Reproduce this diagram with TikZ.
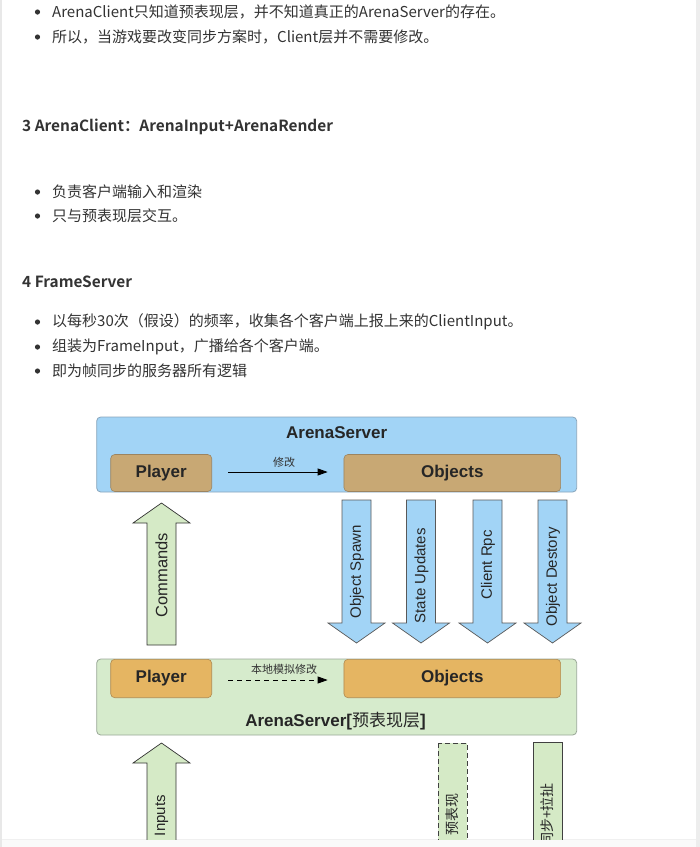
\documentclass[tikz,border=0pt]{standalone}
\usepackage{fontspec}
\setmainfont{Liberation Sans}
\newfontfamily\cjk{Noto Sans CJK SC}[BoldFont={Noto Sans CJK SC Bold}]
\usetikzlibrary{arrows.meta}
\definecolor{txt}{HTML}{333333}
\definecolor{srvblue}{HTML}{A2D4F6}
\definecolor{srvblueline}{HTML}{8AA6BC}
\definecolor{tan}{HTML}{C8A874}
\definecolor{tanline}{HTML}{9C8460}
\definecolor{lgreen}{HTML}{D6EBCC}
\definecolor{lgreenline}{HTML}{9AA898}
\definecolor{orng}{HTML}{E5B562}
\definecolor{orngline}{HTML}{B08A50}
\definecolor{arrgreen}{HTML}{D5EAC6}
\definecolor{edgegray}{HTML}{E8E8E8}
\tikzset{
  para/.style={anchor=west, inner sep=0pt, text=txt, font=\cjk\fontsize{15}{18}\selectfont},
  head/.style={anchor=west, inner sep=0pt, text=txt, font=\cjk\bfseries\fontsize{15.4}{18}\selectfont},
  bul/.style={fill=txt},
  layerbox/.style={draw, rounded corners=4pt, minimum width=480pt, line width=0.8pt},
  innerbox/.style={draw, rounded corners=4pt, line width=0.6pt, font=\bfseries\fontsize{17}{20}\selectfont, text=black!85},
  boxtitle/.style={font=\bfseries\fontsize{17}{20}\selectfont, text=black!85, inner sep=0pt},
  smalllbl/.style={font=\cjk\fontsize{11}{13}\selectfont, text=black!80, inner sep=0pt},
  vlbl/.style={rotate=90, anchor=east, inner sep=0pt, font=\fontsize{15}{17}\selectfont, text=black!85},
  vcjk/.style={rotate=90, anchor=east, inner sep=0pt, font=\cjk\fontsize{14}{17}\selectfont, text=black!85},
  blockblue/.style={fill=srvblue, draw=black!65, line width=0.7pt, line join=miter},
  blockgreen/.style={fill=arrgreen, draw=black!80, line width=0.7pt, line join=miter},
}
\newcommand\UpBlock[5]{% style, cx, tip, headbase, bottom
  \path[#1] (#2-14.5,#5) -- (#2-14.5,#4) -- (#2-28.5,#4) -- (#2,#3) -- (#2+28.5,#4) -- (#2+14.5,#4) -- (#2+14.5,#5) -- cycle;}
\newcommand\DownBlock[5]{% style, cx, top, headbase, tip
  \path[#1] (#2-14.5,#3) -- (#2-14.5,#4) -- (#2-28.5,#4) -- (#2,#5) -- (#2+28.5,#4) -- (#2+14.5,#4) -- (#2+14.5,#3) -- cycle;}
\begin{document}
\begin{tikzpicture}[x=1pt,y=-1pt]
\useasboundingbox (0,0) rectangle (700,847);
\fill[white] (0,0) rectangle (700,847);
% page edges
\fill[edgegray] (0,0) rectangle (2,847);
\fill[edgegray!80] (696,0) rectangle (700,847);
\fill[black!2] (2,840) rectangle (696,847);
\draw[black!6, line width=0.5pt] (2,839.5) -- (696,839.5);

% article text
\fill[bul] (37.5,12) circle (2.6pt);
\node[para] (t1) at (52,12) {ArenaClient只知道预表现层，并不知道真正的ArenaServer的存在。};
\fill[bul] (37.5,37) circle (2.6pt);
\node[para] (t2) at (52,37) {所以，当游戏要改变同步方案时，Client层并不需要修改。};

\node[head] (h3) at (22,127) {3 ArenaClient：ArenaInput+ArenaRender};
\fill[bul] (37.5,192) circle (2.6pt);
\node[para] (t3) at (52,192) {负责客户端输入和渲染};
\fill[bul] (37.5,216) circle (2.6pt);
\node[para] (t4) at (52,216) {只与预表现层交互。};

\node[head] (h4) at (22,282) {4 FrameServer};
\fill[bul] (37.5,322) circle (2.6pt);
\node[para] (t5) at (52,322) {以每秒30次（假设）的频率，收集各个客户端上报上来的ClientInput。};
\fill[bul] (37.5,347) circle (2.6pt);
\node[para] (t6) at (52,347) {组装为FrameInput，广播给各个客户端。};
\fill[bul] (37.5,371) circle (2.6pt);
\node[para] (t7) at (52,371) {即为帧同步的服务器所有逻辑};

\begin{scope}
\clip (0,0) rectangle (700,839);
% top ArenaServer
\node[layerbox, fill=srvblue, draw=srvblueline, minimum height=75pt] (srv) at (336.7,454.5) {};
\node[boxtitle] (srvt) at (336.7,433) {ArenaServer};
\node[innerbox, fill=tan, draw=tanline, minimum width=101pt, minimum height=37pt] (tp) at (161.2,473) {Player};
\node[innerbox, fill=tan, draw=tanline, minimum width=216.7pt, minimum height=37pt] (to) at (452.3,473) {Objects};
\draw[line width=0.8pt, -{Triangle[length=10pt,width=7pt]}] ([xshift=16pt]tp.east |- 0,472) -- ([xshift=-16pt]to.west |- 0,472);
\node[smalllbl] (m1l) at (284,462) {修改};

% block arrows middle
\UpBlock{blockgreen}{161.5}{503}{523}{645}
\node[vlbl, font=\fontsize{16.5}{19}\selectfont] (cmd) at (161.5,533) {Commands};
\DownBlock{blockblue}{356.5}{500}{623}{643}
\node[vlbl] (osp) at (357,525) {Object Spawn};
\DownBlock{blockblue}{421}{500}{623}{643}
\node[vlbl] (stu) at (421.5,528) {State Updates};
\DownBlock{blockblue}{487.5}{500}{623}{643}
\node[vlbl] (crpc) at (488,530) {Client Rpc};
\DownBlock{blockblue}{552.5}{500}{623}{643}
\node[vlbl] (odes) at (553,527) {Object Destory};

% lower layer
\node[layerbox, fill=lgreen, draw=lgreenline, minimum height=76pt] (pre) at (336.7,697) {};
\node[innerbox, fill=orng, draw=orngline, minimum width=101pt, minimum height=38.4pt] (lp) at (161.2,678.5) {Player};
\node[innerbox, fill=orng, draw=orngline, minimum width=216.7pt, minimum height=38.4pt] (lo) at (452.3,678.5) {Objects};
\draw[line width=0.8pt, dashed, dash pattern=on 5pt off 4pt, -{Triangle[length=10pt,width=7pt]}] ([xshift=16pt]lp.east |- 0,680) -- ([xshift=-16pt]lo.west |- 0,680);
\node[smalllbl] (m2l) at (284,669) {本地模拟修改};
\node[boxtitle] (pret) at (335.5,721) {ArenaServer[{\cjk\mdseries 预表现层}]};

% bottom arrows
\UpBlock{blockgreen}{161.5}{743}{763}{860}
\node[vlbl] (inp) at (161.5,795) {Inputs};
\draw[fill=arrgreen, draw=black!75, dashed, dash pattern=on 5pt off 3pt, line width=0.7pt] (438,743) rectangle (467,860);
\node[vcjk] (yb) at (452.5,793) {预表现};
\draw[fill=arrgreen, draw=black!75, line width=0.7pt] (533,742) rectangle (562,860);
\node[vcjk] (tb) at (547.5,783) {同步+拉扯};
\end{scope}
\end{tikzpicture}
\end{document}
